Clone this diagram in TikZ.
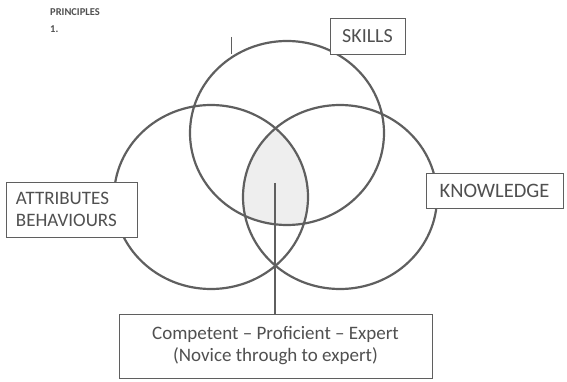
\documentclass[tikz,border=0pt]{standalone}
\usepackage{fontspec}
\setmainfont{Carlito}
\definecolor{lin}{RGB}{95,95,95}
\definecolor{txt}{RGB}{80,80,80}
\definecolor{lensgray}{RGB}{238,238,238}
\begin{document}
\begin{tikzpicture}[x=1pt,y=-1pt,
  venn/.style={draw=lin,line width=2.2pt},
  lbl/.style={draw=lin,line width=0.9pt,fill=white,text=txt,inner sep=0pt,
    font=\fontsize{20}{22}\selectfont}]
\useasboundingbox (0,0) rectangle (567,382);
% shaded centre
\begin{scope}
  \clip (211,197) ellipse [x radius=97,y radius=92];
  \clip (340,197) ellipse [x radius=97,y radius=92];
  \fill[lensgray] (287,133) ellipse [x radius=97,y radius=92];
\end{scope}
% circles
\draw[venn] (287,133) ellipse [x radius=97,y radius=92];
\draw[venn] (211,197) ellipse [x radius=97,y radius=92];
\draw[venn] (340,197) ellipse [x radius=97,y radius=92];
% small tick
\draw[lin,line width=0.9pt] (231,37) -- (231,54);
% labels
\node[font=\bfseries\fontsize{10.5}{17}\selectfont,text=txt,align=left,anchor=north west,inner sep=0pt] (title) at (50,8) {PRINCIPLES\\1.};
\node[lbl,minimum width=75pt,minimum height=36pt] (skills) at (367.5,36) {SKILLS};
\node[lbl,minimum width=137pt,minimum height=35pt,font=\fontsize{20.5}{22}\selectfont] (know) at (494.5,190.5) {KNOWLEDGE};
\node[lbl,minimum width=131pt,minimum height=55pt,text width=111pt,align=left,
  font=\fontsize{19}{22}\selectfont] (attr) at (71.5,209.5) {ATTRIBUTES\\BEHAVIOURS};
\node[lbl,minimum width=313pt,minimum height=64pt,align=center,
  font=\fontsize{19}{22}\selectfont] (level) at (275.5,346) {Competent -- Proficient -- Expert\\(Novice through to expert)};
% connector
\coordinate (lens) at (275,183);
\draw[lin,line width=1.4pt] (lens) -- (lens |- level.north);
\end{tikzpicture}
\end{document}
